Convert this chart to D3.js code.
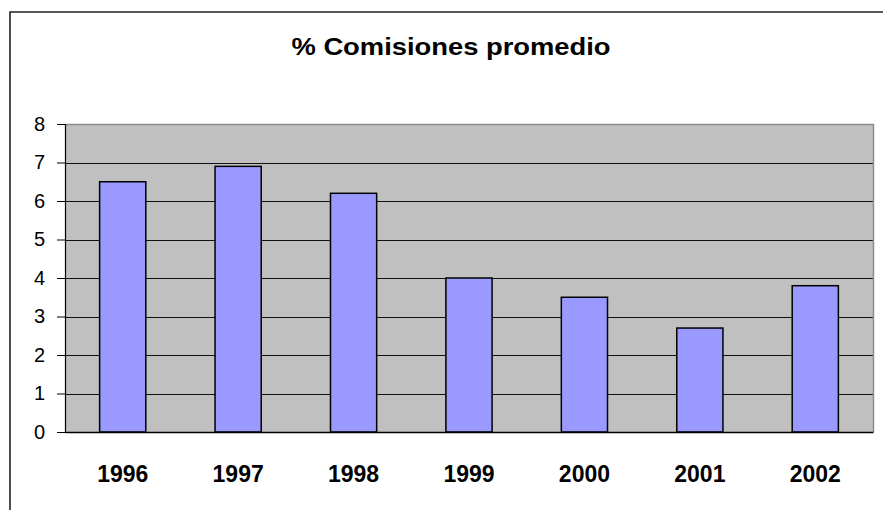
<!DOCTYPE html>
<html>
<head>
<meta charset="utf-8">
<script src="https://cdn.jsdelivr.net/npm/d3@7"></script>
<style>
  body { margin: 0; background: #fff; }
  svg { display: block; font-family: "Liberation Sans", Arial, sans-serif; }
</style>
</head>
<body>
<div id="chart"></div>
<script>
var years = ["1996", "1997", "1998", "1999", "2000", "2001", "2002"];
var comisiones = [6.5, 6.9, 6.2, 4.0, 3.5, 2.7, 3.8];
var yTicks = [0, 1, 2, 3, 4, 5, 6, 7, 8];
var title = "% Comisiones promedio";

var svgWidth = 883;
var svgHeight = 510;

var plot = { left: 65, right: 873, top: 124, bottom: 432 };

var svg = d3.select("#chart")
  .append("svg")
  .attr("width", svgWidth)
  .attr("height", svgHeight);

// outer chart frame (cut off at right and bottom)
svg.append("path")
  .attr("d", "M10,520 L10,12 L890,12")
  .attr("fill", "none")
  .attr("stroke", "#222")
  .attr("stroke-width", 1.6);

svg.append("text")
  .attr("x", 451)
  .attr("y", 55)
  .attr("text-anchor", "middle")
  .attr("font-size", 24)
  .attr("font-weight", "bold")
  .attr("transform", "translate(451,0) scale(1.14,1) translate(-451,0)")
  .text(title);

var x = d3.scaleBand()
  .domain(years)
  .range([plot.left, plot.right])
  .paddingInner(0.6)
  .paddingOuter(0.3);

var y = d3.scaleLinear()
  .domain([0, 8])
  .range([plot.bottom, plot.top]);

// plot background
svg.append("rect")
  .attr("x", plot.left)
  .attr("y", plot.top)
  .attr("width", plot.right - plot.left)
  .attr("height", plot.bottom - plot.top)
  .attr("fill", "#c0c0c0");

// gridlines
svg.append("g")
  .selectAll("line")
  .data(yTicks.filter(d => d > 0 && d < 8))
  .enter()
  .append("line")
  .attr("x1", plot.left)
  .attr("x2", plot.right)
  .attr("y1", d => Math.round(y(d)) + 0.5)
  .attr("y2", d => Math.round(y(d)) + 0.5)
  .attr("stroke", "#111")
  .attr("stroke-width", 1);

// top and right border of plot area
svg.append("path")
  .attr("d", `M${plot.left},${plot.top + 0.5} L${plot.right + 0.5},${plot.top + 0.5} L${plot.right + 0.5},${plot.bottom}`)
  .attr("fill", "none")
  .attr("stroke", "#8c8c8c")
  .attr("stroke-width", 1.5);

// bars
svg.append("g")
  .selectAll("rect")
  .data(comisiones)
  .enter()
  .append("rect")
  .attr("x", (d, i) => x(years[i]))
  .attr("y", d => y(d))
  .attr("width", x.bandwidth())
  .attr("height", d => y(0) - y(d))
  .attr("fill", "#9999ff")
  .attr("stroke", "#000")
  .attr("stroke-width", 1.5);

// y axis
var leftAxis = d3.axisLeft(y)
  .tickValues(yTicks)
  .tickSize(8)
  .tickPadding(12)
  .tickFormat(d3.format("d"));

var yAxisG = svg.append("g")
  .attr("transform", `translate(${plot.left},0)`)
  .call(leftAxis);
yAxisG.select(".domain").attr("stroke", "#000").attr("stroke-width", 1.2);
yAxisG.selectAll(".tick line").attr("stroke", "#000");
yAxisG.selectAll(".tick text")
  .attr("font-family", "'Liberation Sans', Arial, sans-serif")
  .attr("font-size", 20)
  .attr("fill", "#000");

// x axis
var bottomAxis = d3.axisBottom(x)
  .tickSize(0)
  .tickPadding(34);

var xAxisG = svg.append("g")
  .attr("transform", `translate(0,${plot.bottom})`)
  .call(bottomAxis);
xAxisG.select(".domain").attr("stroke", "#000").attr("stroke-width", 1.5);
xAxisG.selectAll(".tick text")
  .attr("font-family", "'Liberation Sans', Arial, sans-serif")
  .attr("font-size", 23)
  .attr("font-weight", "bold")
  .attr("fill", "#000");
</script>
</body>
</html>
